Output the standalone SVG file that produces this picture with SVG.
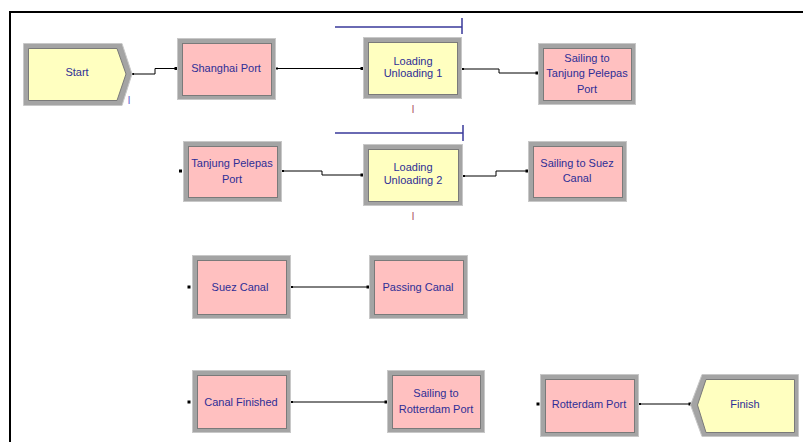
<svg xmlns="http://www.w3.org/2000/svg" width="803" height="442" viewBox="0 0 803 442">
<style>
.bg{fill:#ffffff}
.frame{stroke:#000;stroke-width:2;fill:none}
.band{fill:#a4a4a4;stroke:#c8c8c8;stroke-width:1}
.shade{fill:none;stroke:#8a8a8a;stroke-width:1}
.pink{fill:#ffc0c0;stroke:#7a7a7a;stroke-width:1}
.yellow{fill:#ffffc0;stroke:#7a7a7a;stroke-width:1}
.lbl{font-family:"Liberation Sans",Arial,sans-serif;font-size:11px;fill:#2e2e96;text-anchor:middle}
.conn{stroke:#000;stroke-width:1;fill:none}
.pt{fill:#000}
.res{stroke:#3a3a9a;stroke-width:1.5;fill:none}
.mark{font-family:"Liberation Sans",Arial,sans-serif;font-size:11px;fill:#b06070;text-anchor:middle}
.markb{font-family:"Liberation Sans",Arial,sans-serif;font-size:11px;fill:#6a6ad0;text-anchor:middle}
</style>
<rect class="bg" x="0" y="0" width="803" height="442"/>
<path class="frame" d="M10,443 V12 H804"/>

<g id="connectors">
  <path class="conn" d="M133,74 H155 V68.5 H176"/>
  <path class="conn" d="M277,68.5 H362"/>
  <path class="conn" d="M463,69 H499 V73 H537"/>
  <path class="conn" d="M283,171 H322 V175 H362"/>
  <path class="conn" d="M464,176 H496 V171 H527"/>
  <path class="conn" d="M292,287 H368"/>
  <path class="conn" d="M292,402 H386"/>
  <path class="conn" d="M640,404 H690"/>
  <rect class="pt" x="174.5" y="67" width="3" height="3"/>
  <rect class="pt" x="360.5" y="67" width="3" height="3"/>
  <rect class="pt" x="535.5" y="71.5" width="3" height="3"/>
  <rect class="pt" x="360.5" y="173.5" width="3" height="3"/>
  <rect class="pt" x="525.5" y="169.5" width="3" height="3"/>
  <rect class="pt" x="366.5" y="285.5" width="3" height="3"/>
  <rect class="pt" x="384.5" y="400.5" width="3" height="3"/>
  <rect class="pt" x="688.5" y="402.5" width="3" height="3"/>
  <rect class="pt" x="132" y="73" width="2" height="2"/>
  <rect class="pt" x="276" y="67.5" width="2" height="2"/>
  <rect class="pt" x="462" y="68" width="2" height="2"/>
  <rect class="pt" x="282" y="170" width="2" height="2"/>
  <rect class="pt" x="463" y="175" width="2" height="2"/>
  <rect class="pt" x="291" y="286" width="2" height="2"/>
  <rect class="pt" x="291" y="401" width="2" height="2"/>
  <rect class="pt" x="639" y="403" width="2" height="2"/>
</g>

<g id="start">
  <polygon class="band" points="23.5,43.5 122,43.5 132,74 122,105.5 23.5,105.5"/>
  <polygon class="yellow" points="28.5,48.5 117,48.5 126,74 117,100.5 28.5,100.5"/>
  <text class="lbl" x="77" y="76">Start</text>
  <text class="markb" x="129" y="104">I</text>
</g>

<g id="shanghai-port">
  <rect class="band" x="177.5" y="38.5" width="98" height="61"/>
  <rect class="pink" x="182.5" y="43.5" width="89" height="52"/>
  <text class="lbl" x="226" y="72">Shanghai Port</text>
</g>

<g id="loading-unloading-1">
  <path class="res" d="M335,27 H462 M462,18 V34"/>
  <rect class="band" x="363.5" y="37.5" width="98" height="61"/>
  <rect class="yellow" x="368.5" y="42.5" width="89" height="52"/>
  <text class="lbl" x="413" y="65">Loading</text>
  <text class="lbl" x="413" y="77">Unloading 1</text>
  <text class="mark" x="413" y="113">I</text>
</g>

<g id="sailing-to-tanjung-pelepas-port">
  <rect class="band" x="538.5" y="43.5" width="97" height="61"/>
  <rect class="pink" x="543.5" y="48.5" width="88" height="52"/>
  <text class="lbl" x="587" y="62">Sailing to</text>
  <text class="lbl" x="587" y="77">Tanjung Pelepas</text>
  <text class="lbl" x="587" y="93">Port</text>
</g>

<g id="tanjung-pelepas-port">
  <rect class="pt" x="179" y="169.5" width="3" height="3"/>
  <rect class="band" x="183.5" y="141.5" width="98" height="60"/>
  <rect class="pink" x="188.5" y="146.5" width="89" height="51"/>
  <text class="lbl" x="232" y="167">Tanjung Pelepas</text>
  <text class="lbl" x="232" y="183">Port</text>
</g>

<g id="loading-unloading-2">
  <path class="res" d="M335,133 H463 M463,125 V141"/>
  <rect class="band" x="363.5" y="144.5" width="99" height="61"/>
  <rect class="yellow" x="368.5" y="149.5" width="90" height="52"/>
  <text class="lbl" x="413" y="171">Loading</text>
  <text class="lbl" x="413" y="184">Unloading 2</text>
  <text class="mark" x="413" y="220">I</text>
</g>

<g id="sailing-to-suez-canal">
  <rect class="band" x="528.5" y="141.5" width="98" height="60"/>
  <rect class="pink" x="533.5" y="146.5" width="89" height="51"/>
  <text class="lbl" x="577" y="167">Sailing to Suez</text>
  <text class="lbl" x="577" y="182">Canal</text>
</g>

<g id="suez-canal">
  <rect class="pt" x="187.5" y="285.5" width="3" height="3"/>
  <rect class="band" x="192.5" y="255.5" width="98" height="63"/>
  <rect class="pink" x="197.5" y="260.5" width="89" height="54"/>
  <text class="lbl" x="240" y="291">Suez Canal</text>
</g>

<g id="passing-canal">
  <rect class="band" x="369.5" y="255.5" width="98" height="63"/>
  <rect class="pink" x="374.5" y="260.5" width="89" height="54"/>
  <text class="lbl" x="418" y="291">Passing Canal</text>
</g>

<g id="canal-finished">
  <rect class="pt" x="187.5" y="400.5" width="3" height="3"/>
  <rect class="band" x="192.5" y="370.5" width="98" height="62"/>
  <rect class="pink" x="197.5" y="375.5" width="89" height="53"/>
  <text class="lbl" x="241" y="406">Canal Finished</text>
</g>

<g id="sailing-to-rotterdam-port">
  <rect class="band" x="387.5" y="370.5" width="97" height="62"/>
  <rect class="pink" x="392.5" y="375.5" width="88" height="53"/>
  <text class="lbl" x="436" y="397">Sailing to</text>
  <text class="lbl" x="436" y="413">Rotterdam Port</text>
</g>

<g id="rotterdam-port">
  <rect class="pt" x="536.5" y="402.5" width="3" height="3"/>
  <rect class="band" x="540.5" y="374.5" width="98" height="62"/>
  <rect class="pink" x="545.5" y="379.5" width="89" height="53"/>
  <text class="lbl" x="589" y="408">Rotterdam Port</text>
</g>

<g id="finish">
  <polygon class="band" points="702,374.5 798.5,374.5 798.5,436.5 702,436.5 690.5,405"/>
  <polygon class="yellow" points="706,379.5 794.5,379.5 794.5,432.5 706,432.5 697.5,405"/>
  <text class="lbl" x="745" y="408">Finish</text>
</g>
</svg>
